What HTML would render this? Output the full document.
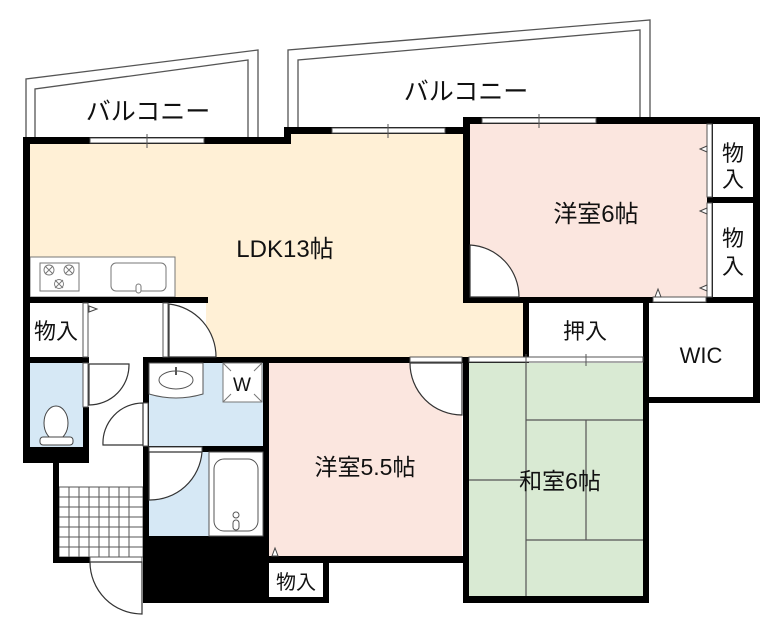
<!DOCTYPE html>
<html><head><meta charset="utf-8"><style>
html,body{margin:0;padding:0;background:#fff;}
svg{display:block;}
text{font-family:"Liberation Sans","Noto Sans CJK JP",sans-serif;fill:#111;}
</style></head><body>
<svg width="779" height="634" viewBox="0 0 779 634" xmlns="http://www.w3.org/2000/svg">
<g fill="none" stroke="#555" stroke-width="1.3">
<polyline points="26,140 26,79 258,50 258,140"/>
<polyline points="35,140 35,89 248,60 248,140"/>
<polyline points="288,130 288,50 650,20 650,120"/>
<polyline points="298,130 298,60 640,30 640,120"/>
</g>
<text x="148" y="120" font-size="25" text-anchor="middle">バルコニー</text>
<text x="466" y="100" font-size="25" text-anchor="middle">バルコニー</text>

<path d="M29,143 H290 V133 H466 V300 H523 V360 H206 V300 H29 Z" fill="#fff0d6"/>
<rect x="470" y="123" width="237" height="175" fill="#fbe6df"/>
<rect x="269" y="363" width="193" height="194" fill="#fbe6df"/>
<rect x="469" y="363" width="174" height="233" fill="#d9ead3"/>
<rect x="30" y="363" width="53" height="84" fill="#d6e8f5"/>
<rect x="149" y="363" width="114" height="84" fill="#d6e8f5"/>
<rect x="149" y="452" width="60" height="84" fill="#d6e8f5"/>

<rect x="30" y="257" width="145" height="40" fill="#fff" stroke="#777" stroke-width="1"/>
<rect x="40" y="263" width="39" height="28" fill="#fff" stroke="#777"/>
<g fill="none" stroke="#777" stroke-width="0.9">
<circle cx="49" cy="270" r="5"/><circle cx="69" cy="270" r="5"/><circle cx="59" cy="284" r="4.5"/>
<path d="M45,266 l8,8 M53,266 l-8,8 M65,266 l8,8 M73,266 l-8,8 M55,280 l8,8 M63,280 l-8,8"/>
</g>
<rect x="111" y="263" width="55" height="28" rx="5" fill="#fff" stroke="#777"/>
<rect x="136" y="284" width="5" height="9" rx="2.5" fill="#fff" stroke="#777"/>

<g stroke="#555" stroke-width="1.2">
<line x1="526" y1="363" x2="526" y2="596"/>
<line x1="526" y1="420" x2="643" y2="420"/>
<line x1="586" y1="420" x2="586" y2="540"/>
<line x1="526" y1="540" x2="643" y2="540"/>
<line x1="469" y1="480" x2="526" y2="480"/>
</g>

<g stroke="#555" stroke-width="1">
<rect x="59" y="487" width="84" height="70" fill="#fff"/>
<path d="M59,497 H143 M59,507 H143 M59,517 H143 M59,527 H143 M59,537 H143 M59,547 H143
M69,487 V557 M79,487 V557 M89,487 V557 M99,487 V557 M109,487 V557 M119,487 V557 M129,487 V557"/>
</g>

<g fill="#000">
<rect x="23" y="137" width="267" height="7"/>
<rect x="284" y="127" width="7" height="17"/>
<rect x="284" y="127" width="185" height="7"/>
<rect x="463" y="117" width="297" height="7"/>
<rect x="463" y="117" width="7" height="184"/>
<rect x="753" y="117" width="7" height="286"/>
<rect x="707" y="117" width="6" height="184"/>
<rect x="707" y="197" width="50" height="6"/>
<rect x="463" y="297" width="297" height="6"/>
<rect x="523" y="297" width="6" height="66"/>
<rect x="643" y="297" width="6" height="306"/>
<rect x="643" y="397" width="117" height="6"/>
<rect x="23" y="137" width="7" height="326"/>
<rect x="23" y="297" width="185" height="6"/>
<rect x="23" y="357" width="66" height="6"/>
<rect x="23" y="447" width="66" height="16"/>
<rect x="83" y="407" width="6" height="56"/>
<rect x="53" y="447" width="6" height="115"/>
<rect x="53" y="557" width="37" height="6"/>
<rect x="143" y="357" width="380" height="6"/>
<rect x="143" y="357" width="6" height="246"/>
<rect x="143" y="446" width="120" height="6"/>
<rect x="263" y="357" width="6" height="246"/>
<rect x="143" y="536" width="126" height="67"/>
<rect x="263" y="556" width="206" height="7"/>
<rect x="323" y="556" width="6" height="47"/>
<rect x="263" y="597" width="66" height="6"/>
<rect x="463" y="357" width="6" height="246"/>
<rect x="463" y="596" width="186" height="7"/>
</g>

<g fill="#fff" stroke="#555" stroke-width="1">
<rect x="90" y="138" width="114" height="5"/>
<rect x="332" y="128" width="113" height="5"/>
<rect x="482" y="118" width="114" height="5"/>
<rect x="469" y="357" width="174" height="5"/>
<rect x="410" y="357" width="52" height="5"/>
<rect x="653" y="297" width="53" height="5"/>
<rect x="83" y="303" width="5" height="54"/>
<rect x="83" y="363" width="5" height="44"/>
<rect x="163" y="303" width="5" height="54"/>
<rect x="143" y="403" width="5" height="43"/>
<rect x="149" y="447" width="53" height="5"/>
<rect x="90" y="557" width="52" height="5"/>
<rect x="707" y="124" width="5" height="73"/>
<rect x="707" y="203" width="5" height="94"/>
</g>
<g stroke="#555" stroke-width="1">
<line x1="147" y1="134" x2="147" y2="148"/><line x1="388" y1="124" x2="388" y2="138"/>
<line x1="539" y1="114" x2="539" y2="128"/><line x1="586" y1="354" x2="586" y2="366"/>
<line x1="526" y1="354" x2="526" y2="366"/>
</g>

<g fill="#fff" stroke="#333" stroke-width="1.2">
<path d="M470,297 V245 A52,52 0 0 1 519,297 Z"/>
<path d="M462,363 H410 A52,52 0 0 0 462,415 Z"/>
<path d="M169,357 V304 A53,53 0 0 1 216,357 Z" />
<path d="M89,364 H129 A40,40 0 0 1 89,405 Z"/>
<path d="M143,445 H103 A40,40 0 0 1 143,403 Z"/>
<path d="M149,452 H202 A52,52 0 0 1 149,500 Z"/>
<path d="M142,562 H90 A52,52 0 0 0 142,614 Z"/>
</g>

<path d="M149,363 H203 V394 Q176,402 149,394 Z" fill="#fff" stroke="#555"/>
<ellipse cx="176" cy="380" rx="17" ry="9" fill="#fff" stroke="#555"/>
<line x1="176" y1="367" x2="176" y2="375" stroke="#555" stroke-width="2"/>
<rect x="223" y="363" width="39" height="39" fill="#fff" stroke="#777"/>
<path d="M223,363 l8,8 M262,363 l-8,8 M223,402 l8,-8 M262,402 l-8,-8" stroke="#777"/>
<text x="242" y="391" font-size="19" text-anchor="middle">W</text>
<rect x="209" y="452" width="54" height="84" fill="#fff" stroke="#555"/>
<rect x="214" y="459" width="44" height="72" rx="10" fill="#fff" stroke="#555"/>
<circle cx="236" cy="515" r="3" fill="#fff" stroke="#555"/>
<rect x="233" y="520" width="6" height="10" rx="3" fill="#fff" stroke="#555"/>
<ellipse cx="56" cy="423" rx="12" ry="17" fill="#fff" stroke="#444"/>
<rect x="40" y="437" width="33" height="8" rx="3" fill="#fff" stroke="#444"/>

<g fill="#fff" stroke="#444" stroke-width="1">
<path d="M89,306 l8,3 l-8,3 Z"/>
<path d="M707,146 l-7,3 l7,3 Z"/><path d="M707,208 l-7,3 l7,3 Z"/><path d="M707,285 l-7,3 l7,3 Z"/>
<path d="M655,297 l3,-8 l3,8 Z"/><path d="M272,556 l3,-8 l3,8 Z"/>
</g>

<text x="285" y="257" font-size="24" text-anchor="middle">LDK13帖</text>
<text x="596" y="222" font-size="24" text-anchor="middle">洋室6帖</text>
<text x="733" y="161" font-size="22" text-anchor="middle">物</text>
<text x="733" y="187" font-size="22" text-anchor="middle">入</text>
<text x="733" y="246" font-size="22" text-anchor="middle">物</text>
<text x="733" y="274" font-size="22" text-anchor="middle">入</text>
<text x="585" y="339" font-size="22" text-anchor="middle">押入</text>
<text x="701" y="363" font-size="22" text-anchor="middle">WIC</text>
<text x="365" y="475" font-size="23" text-anchor="middle">洋室5.5帖</text>
<text x="560" y="489" font-size="23" text-anchor="middle">和室6帖</text>
<text x="56" y="339" font-size="22" text-anchor="middle">物入</text>
<text x="296" y="589" font-size="20" text-anchor="middle">物入</text>
</svg>
</body></html>
